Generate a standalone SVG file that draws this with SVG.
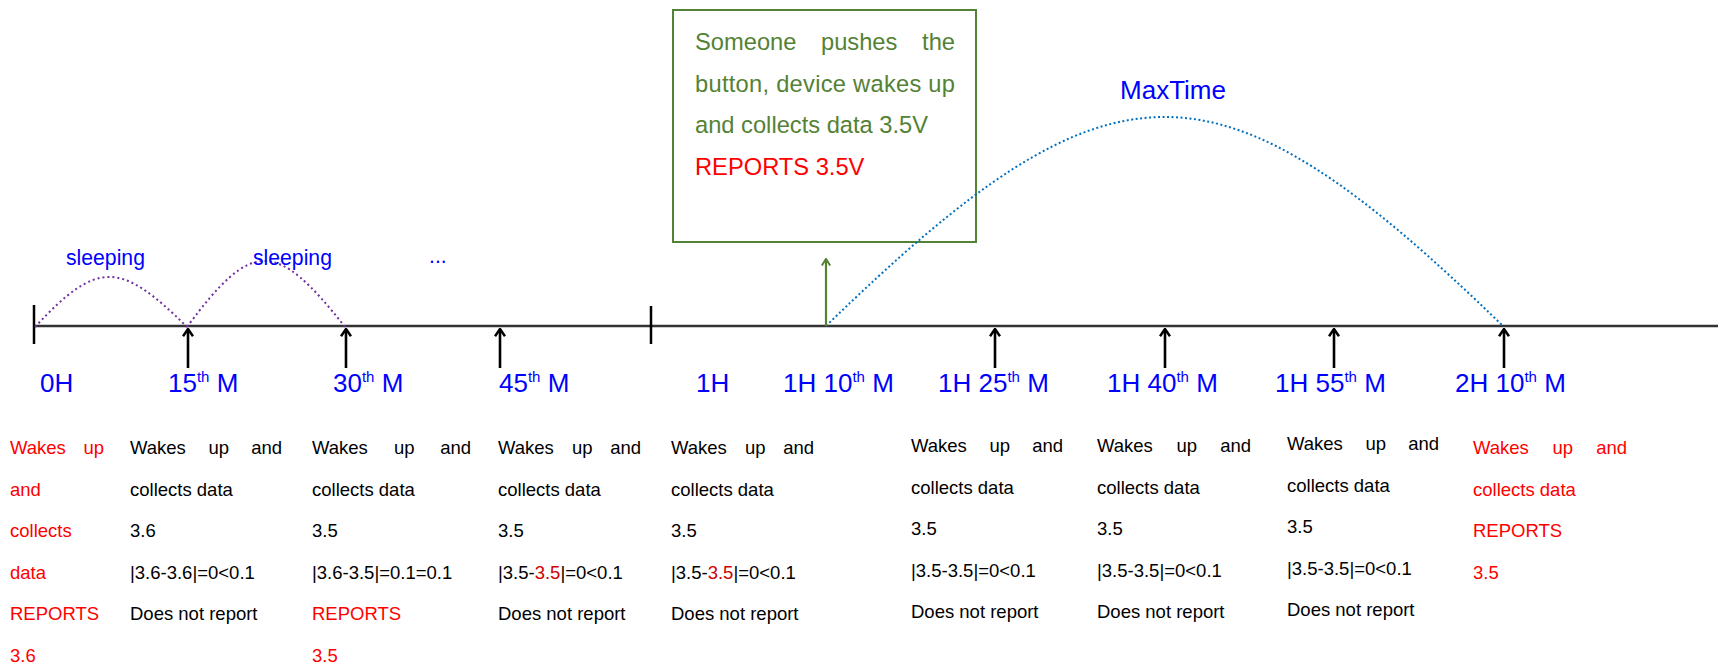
<svg xmlns="http://www.w3.org/2000/svg" width="1731" height="670" viewBox="0 0 1731 670">
<style>
text{font-family:"Liberation Sans",Arial,sans-serif}
.lbl{font-size:26px;fill:#0000FF}
.sup{font-size:15px}
.body{font-size:18.5px;fill:#000}
.red{fill:#FF0000}
.dred{fill:#D00000}
.blue{fill:#0000FF}
.green{fill:#548235}
.tick{stroke:#000;stroke-width:2.5}
.arr{stroke:#000;stroke-width:2.6;fill:none;marker-end:url(#ah)}
</style>
<defs>
<marker id="ah" viewBox="0 0 9 12" refX="8" refY="6" markerWidth="9" markerHeight="12" markerUnits="userSpaceOnUse" orient="auto">
<path d="M0.8,1 L8,6 L0.8,11" fill="none" stroke="#000" stroke-width="2.5"/>
</marker>
<marker id="ahg" viewBox="0 0 8 10" refX="7" refY="5" markerWidth="8" markerHeight="10" markerUnits="userSpaceOnUse" orient="auto">
<path d="M0.5,0.8 L7,5 L0.5,9.2" fill="none" stroke="#548235" stroke-width="2"/>
</marker>
</defs>
<rect width="1731" height="670" fill="#fff"/>

<g id="box">
<rect x="673" y="10" width="303" height="232" fill="#fff" stroke="#548235" stroke-width="2"/>
<text class="green" font-size="23.7" y="50"><tspan x="695">Someone</tspan><tspan x="821">pushes</tspan><tspan x="955" text-anchor="end">the</tspan></text>
<text class="green" font-size="23.7" x="695" y="92" textLength="260" lengthAdjust="spacing">button, device wakes up</text>
<text class="green" font-size="23.7" x="695" y="133">and collects data 3.5V</text>
<text class="red" font-size="23.7" x="695" y="175">REPORTS 3.5V</text>
</g>

<g id="axis">
<line x1="34" y1="326" x2="1718" y2="326" stroke="#333" stroke-width="2.5"/>
<line class="tick" x1="34" y1="305" x2="34" y2="344"/>
<line class="tick" x1="651" y1="306" x2="651" y2="344"/>
</g>

<g id="connectors">
<path d="M35,327 C97,260.3 120,260.3 187,327" fill="none" stroke="#7030A0" stroke-width="2" stroke-dasharray="2 3"/>
<path d="M187,327 C252,239 276,239 345,327" fill="none" stroke="#7030A0" stroke-width="2" stroke-dasharray="2 3"/>
<path d="M826,326 C1113,47.3 1216,47.3 1503,326" fill="none" stroke="#0070C0" stroke-width="2" stroke-dasharray="2 2.5"/>
<line x1="826" y1="326" x2="826" y2="259" stroke="#548235" stroke-width="2.2" marker-end="url(#ahg)"/>
<line class="arr" x1="188" y1="368" x2="188" y2="329"/>
<line class="arr" x1="346" y1="368" x2="346" y2="329"/>
<line class="arr" x1="500" y1="368" x2="500" y2="329"/>
<line class="arr" x1="995" y1="368" x2="995" y2="329"/>
<line class="arr" x1="1165" y1="368" x2="1165" y2="329"/>
<line class="arr" x1="1334" y1="368" x2="1334" y2="329"/>
<line class="arr" x1="1504" y1="368" x2="1504" y2="329"/>
</g>

<g id="annotations">
<text class="blue" font-size="21.2" x="66" y="265">sleeping</text>
<text class="blue" font-size="21.2" x="253" y="265">sleeping</text>
<text class="blue" font-size="21.2" x="429" y="263">...</text>
<text class="blue" font-size="26" x="1173" y="99" text-anchor="middle">MaxTime</text>
</g>

<g id="labels">
<text class="lbl" x="40" y="392">0H</text>
<text class="lbl" x="168" y="392">15<tspan class="sup" dy="-10">th</tspan><tspan dy="10"> M</tspan></text>
<text class="lbl" x="333" y="392">30<tspan class="sup" dy="-10">th</tspan><tspan dy="10"> M</tspan></text>
<text class="lbl" x="499" y="392">45<tspan class="sup" dy="-10">th</tspan><tspan dy="10"> M</tspan></text>
<text class="lbl" x="696" y="392">1H</text>
<text class="lbl" x="783" y="392">1H 10<tspan class="sup" dy="-10">th</tspan><tspan dy="10"> M</tspan></text>
<text class="lbl" x="938" y="392">1H 25<tspan class="sup" dy="-10">th</tspan><tspan dy="10"> M</tspan></text>
<text class="lbl" x="1107" y="392">1H 40<tspan class="sup" dy="-10">th</tspan><tspan dy="10"> M</tspan></text>
<text class="lbl" x="1275" y="392">1H 55<tspan class="sup" dy="-10">th</tspan><tspan dy="10"> M</tspan></text>
<text class="lbl" x="1455" y="392">2H 10<tspan class="sup" dy="-10">th</tspan><tspan dy="10"> M</tspan></text>
</g>

<g id="note-0H">
<text class="body red" y="454"><tspan x="10">Wakes</tspan><tspan x="104" text-anchor="end">up</tspan></text>
<text class="body red" x="10" y="495.5">and</text>
<text class="body red" x="10" y="537">collects</text>
<text class="body red" x="10" y="578.5">data</text>
<text class="body red" x="10" y="620">REPORTS</text>
<text class="body red" x="10" y="661.5">3.6</text>
</g>

<g id="note-15M">
<text class="body" y="454"><tspan x="130">Wakes</tspan><tspan x="208.5">up</tspan><tspan x="282" text-anchor="end">and</tspan></text>
<text class="body" x="130" y="495.5">collects data</text>
<text class="body" x="130" y="537">3.6</text>
<text class="body" x="130" y="578.5">|3.6-3.6|=0&lt;0.1</text>
<text class="body" x="130" y="620">Does not report</text>
</g>

<g id="note-30M">
<text class="body" y="454"><tspan x="312">Wakes</tspan><tspan x="394">up</tspan><tspan x="471" text-anchor="end">and</tspan></text>
<text class="body" x="312" y="495.5">collects data</text>
<text class="body" x="312" y="537">3.5</text>
<text class="body" x="312" y="578.5">|3.6-3.5|=0.1=0.1</text>
<text class="body red" x="312" y="620">REPORTS</text>
<text class="body red" x="312" y="661.5">3.5</text>
</g>

<g id="note-45M">
<text class="body" y="454"><tspan x="498">Wakes</tspan><tspan x="572">up</tspan><tspan x="641" text-anchor="end">and</tspan></text>
<text class="body" x="498" y="495.5">collects data</text>
<text class="body" x="498" y="537">3.5</text>
<text class="body" x="498" y="578.5">|3.5-<tspan class="dred">3.5</tspan>|=0&lt;0.1</text>
<text class="body" x="498" y="620">Does not report</text>
</g>

<g id="note-1H">
<text class="body" y="454"><tspan x="671">Wakes</tspan><tspan x="745">up</tspan><tspan x="814" text-anchor="end">and</tspan></text>
<text class="body" x="671" y="495.5">collects data</text>
<text class="body" x="671" y="537">3.5</text>
<text class="body" x="671" y="578.5">|3.5-<tspan class="dred">3.5</tspan>|=0&lt;0.1</text>
<text class="body" x="671" y="620">Does not report</text>
</g>

<g id="note-1H25M">
<text class="body" y="452"><tspan x="911">Wakes</tspan><tspan x="989.5">up</tspan><tspan x="1063" text-anchor="end">and</tspan></text>
<text class="body" x="911" y="493.5">collects data</text>
<text class="body" x="911" y="535">3.5</text>
<text class="body" x="911" y="576.5">|3.5-3.5|=0&lt;0.1</text>
<text class="body" x="911" y="618">Does not report</text>
</g>

<g id="note-1H40M">
<text class="body" y="452"><tspan x="1097">Wakes</tspan><tspan x="1176.5">up</tspan><tspan x="1251" text-anchor="end">and</tspan></text>
<text class="body" x="1097" y="493.5">collects data</text>
<text class="body" x="1097" y="535">3.5</text>
<text class="body" x="1097" y="576.5">|3.5-3.5|=0&lt;0.1</text>
<text class="body" x="1097" y="618">Does not report</text>
</g>

<g id="note-1H55M">
<text class="body" y="450"><tspan x="1287">Wakes</tspan><tspan x="1365.5">up</tspan><tspan x="1439" text-anchor="end">and</tspan></text>
<text class="body" x="1287" y="491.5">collects data</text>
<text class="body" x="1287" y="533">3.5</text>
<text class="body" x="1287" y="574.5">|3.5-3.5|=0&lt;0.1</text>
<text class="body" x="1287" y="616">Does not report</text>
</g>

<g id="note-2H10M">
<text class="body red" y="454"><tspan x="1473">Wakes</tspan><tspan x="1552.5">up</tspan><tspan x="1627" text-anchor="end">and</tspan></text>
<text class="body red" x="1473" y="495.5">collects data</text>
<text class="body red" x="1473" y="537">REPORTS</text>
<text class="body red" x="1473" y="578.5">3.5</text>
</g>
</svg>
